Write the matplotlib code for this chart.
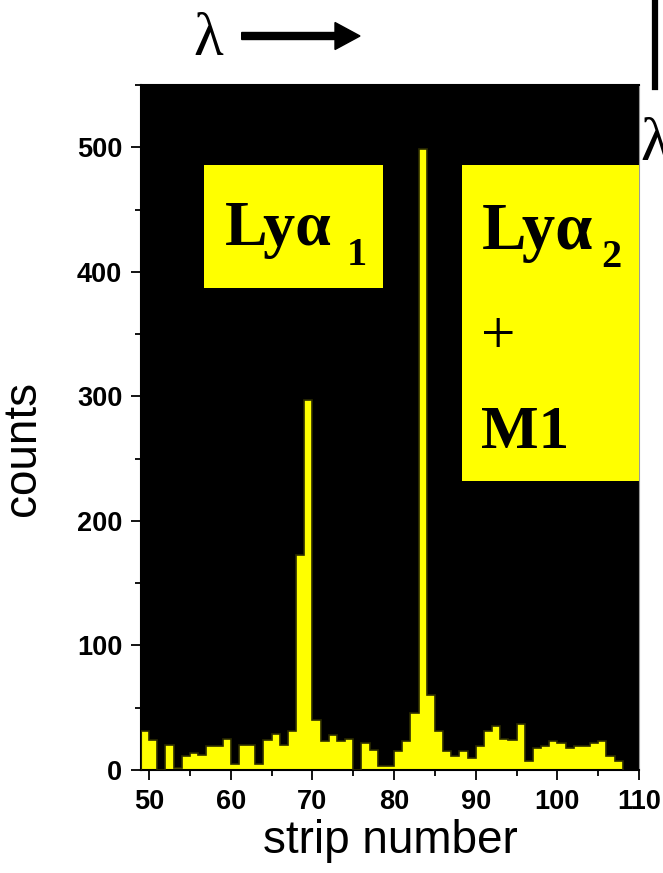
import numpy as np
import matplotlib
matplotlib.use("Agg")
import matplotlib.pyplot as plt
from matplotlib.patches import Rectangle, FancyArrow
from matplotlib.lines import Line2D
from matplotlib.ticker import MultipleLocator

# ---- data: counts per strip (bin [n, n+1]) ----
strip_edges = np.arange(49, 109)  # 49 ... 108
counts = [31, 24, 0, 20, 1.5, 11, 14, 12, 19.5, 19.5,
          25, 5, 20, 20, 4.5, 24, 29, 20, 31.5, 173,
          297, 40, 23, 28, 23, 25, 0, 22, 16, 3,
          3.5, 15, 23, 46, 499, 60, 31, 15, 11, 15,
          9.5, 19, 31, 35, 25, 24, 37, 7.5, 17.5, 19,
          23, 22, 17.5, 19, 19, 22, 23.5, 11, 7.5]
xticks = [50, 60, 70, 80, 90, 100, 110]
yticks = [0, 100, 200, 300, 400, 500]

W, H = 663, 873
fig = plt.figure(figsize=(W / 100, H / 100), dpi=100)
ax = fig.add_axes([141 / W, 103 / H, 498 / W, 685 / H])
ax.set_facecolor("black")

ax.stairs(counts, strip_edges, fill=True, color="#ffff00", zorder=2)
ax.stairs(counts, strip_edges, color="#2b2b00", lw=1.2, zorder=3)

ax.set_xlim(49, 110)
ax.set_ylim(0, 550)
ax.set_xticks(xticks)
ax.set_yticks(yticks)
ax.xaxis.set_minor_locator(MultipleLocator(5))
ax.yaxis.set_minor_locator(MultipleLocator(50))
ax.tick_params(which="major", direction="out", length=7.5, width=1.3,
               labelsize=19.5, pad=6, color="black")
ax.tick_params(which="minor", direction="out", length=4.3, width=1.3, color="black")
for lbl in ax.get_xticklabels() + ax.get_yticklabels():
    lbl.set_fontfamily("Liberation Sans")
    lbl.set_fontweight("bold")

for s in ["left", "bottom", "top"]:
    ax.spines[s].set_color("black")
    ax.spines[s].set_linewidth(1.5)
ax.spines["right"].set_color("#999999")
ax.spines["right"].set_linewidth(0.8)

ax.set_xlabel("strip number", fontsize=33, family="Liberation Sans", va="baseline")
ax.xaxis.set_label_coords(0.5, (770 - 853) / 685)
ax.set_ylabel("counts", fontsize=33, family="Liberation Sans", va="center")
ax.yaxis.set_label_coords((23 - 141) / 498, (770 - 449) / 685)

# ---- yellow label boxes ----
ax.add_patch(Rectangle((0.1265, 0.7036), 0.4853 - 0.1265, 0.8832 - 0.7036,
                       transform=ax.transAxes, facecolor="#ffff00",
                       edgecolor="none", zorder=4))
ax.add_patch(Rectangle((0.644, 0.4223), 1.0 - 0.644, 0.8832 - 0.4223,
                       transform=ax.transAxes, facecolor="#ffff00",
                       edgecolor="none", zorder=4, clip_on=False))

serif = "Liberation Serif"
tk = dict(transform=ax.transAxes, family=serif, color="black",
          ha="left", va="baseline", zorder=5)
ax.text(0.1687, 0.7664, "Lyα", fontsize=46, fontweight="bold", **tk)
ax.text(0.413, 0.737, "1", fontsize=29, fontweight="bold", **tk)
ax.text(0.684, 0.7606, "Lyα", fontsize=48, fontweight="bold", **tk)
ax.text(0.925, 0.7347, "2", fontsize=29, fontweight="bold", **tk)
ax.text(0.717, 0.6088, "+", fontsize=44, transform=ax.transAxes, family=serif,
        color="black", ha="center", va="baseline", zorder=5)
ax.text(0.6827, 0.4696, "M1", fontsize=44, fontweight="bold", **tk)

# ---- wavelength direction marker at top ----
fig.text(193 / W, 1 - 55 / H, "λ", fontsize=44, family=serif,
         ha="left", va="baseline")
fig.patches.append(FancyArrow(241.7 / W, 1 - 36 / H, (360 - 241.7) / W, 0,
                              width=7 / H, head_width=27 / H,
                              head_length=25 / W, length_includes_head=True,
                              color="black", transform=fig.transFigure,
                              figure=fig))
# pieces of the neighbouring panel at the right edge
fig.lines.append(Line2D([655 / W, 655 / W], [1.0, 1 - 87 / H], lw=4.5,
                        color="black", transform=fig.transFigure, figure=fig))
fig.text(640 / W, 1 - 160 / H, "λ", fontsize=44, family=serif,
         ha="left", va="baseline")

fig.savefig("out.png", dpi=100)
